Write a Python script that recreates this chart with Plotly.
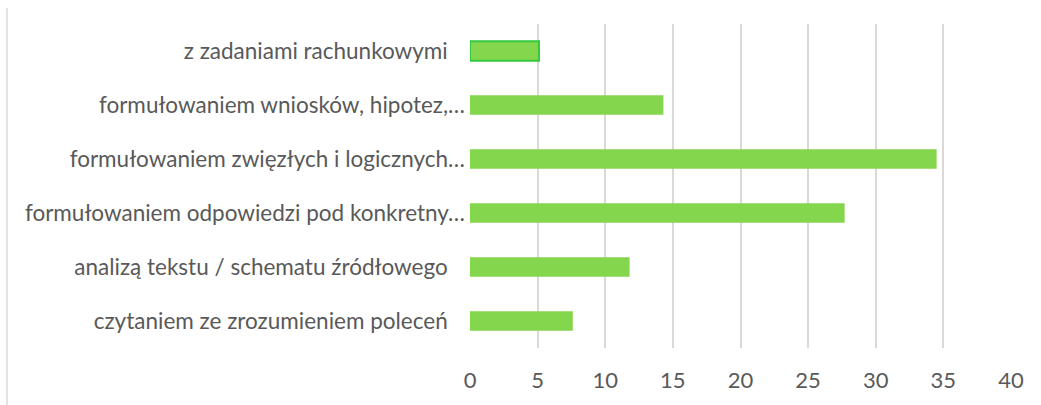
import plotly.graph_objects as go

categories = [
    "czytaniem ze zrozumieniem poleceń\u00a0\u00a0\u00a0",
    "analizą tekstu / schematu źródłowego\u00a0\u00a0\u00a0",
    "formułowaniem odpowiedzi pod konkretny…",
    "formułowaniem zwięzłych i logicznych…",
    "formułowaniem wniosków, hipotez,…",
    "z zadaniami rachunkowymi\u00a0\u00a0\u00a0",
]
values = [7.6, 11.8, 27.7, 34.5, 14.3, 5.1]
x_ticks = [0, 5, 10, 15, 20, 25, 30, 35, 40]

fill = "#84D64C"
border_colors = [fill, fill, fill, fill, fill, "#33C93C"]
border_widths = [0, 0, 0, 0, 0, 2]

fig = go.Figure(go.Bar(
    y=categories, x=values, orientation="h",
    marker=dict(color=fill, line=dict(color=border_colors, width=border_widths)),
))

font_family = "Lato, 'Open Sans', sans-serif"
fig.update_layout(
    width=1041, height=405,
    margin=dict(l=470, r=30, t=24, b=57),
    plot_bgcolor="white", paper_bgcolor="white",
    bargap=0.64,
    showlegend=False,
    font=dict(family=font_family, size=22, color="#595959"),
    xaxis=dict(range=[0, 40], tickvals=x_ticks, showgrid=True, gridcolor="#D9D9D9",
               gridwidth=1.5, zeroline=False, showline=False, ticks="",
               tickfont=dict(size=22, color="#595959"), ticklabelstandoff=17),
    yaxis=dict(showgrid=False, zeroline=False, showline=False, ticks="",
               tickfont=dict(size=22.5, color="#595959"), ticklabelstandoff=4),
    shapes=[
        dict(type="line", xref="paper", yref="paper", x0=(7 - 470) / 541, x1=(7 - 470) / 541,
             y0=(348 - 8) / 324, y1=(348 - 405) / 324, line=dict(color="#D9D9D9", width=1.5)),
    ],
)

fig.write_html("out.html", config={"displayModeBar": False},
               post_script="document.body.style.margin='0';document.body.style.overflow='hidden';")
